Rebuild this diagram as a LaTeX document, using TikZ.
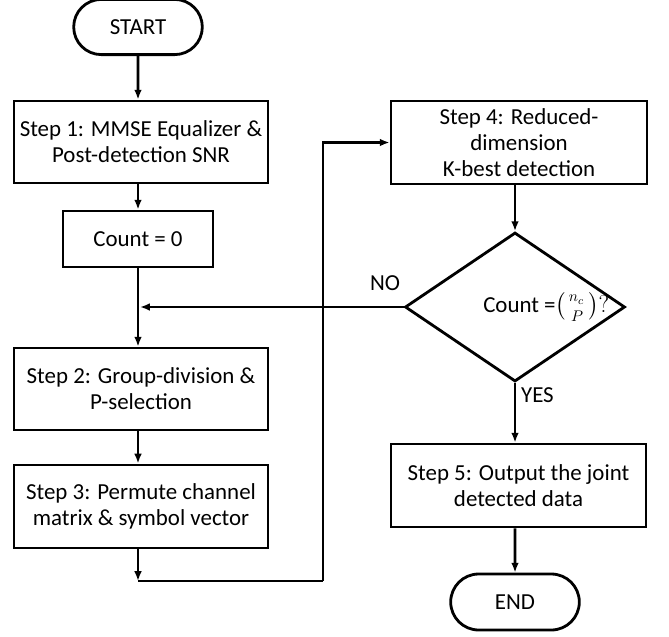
\documentclass[tikz,border=0pt]{standalone}
\usepackage{fontspec}
\setmainfont{Carlito}
\usepackage{amsmath,amssymb}
\usepackage{tikz}
\usetikzlibrary{arrows.meta, positioning, calc, shapes}
\tikzstyle{block} = [draw, line width=2pt, rectangle, align=center, minimum width=6.35cm, minimum height=2.05cm, font=\fontsize{16.3}{18.5}\selectfont]
\tikzstyle{term} = [draw, line width=2pt, rounded rectangle, minimum width=3.45cm, minimum height=1.38cm, font=\fontsize{16.3}{18.5}\selectfont]
\tikzstyle{arrow} = [line width=2pt, -{Latex[length=7pt, width=5.5pt]}]
\tikzstyle{line} = [line width=2pt]

\begin{document}
\begin{tikzpicture}

\useasboundingbox (0, 0) rectangle (16.725, -15.9);

% Left column
\node [term] (start) at (3.45, -0.675) {START};
\node [block] (step1) at (3.525, -3.55) {Step 1: MMSE Equalizer \&\\Post-detection SNR};
\node [block, minimum width=3.75cm, minimum height=1.4cm] (count) at (3.45, -5.975) {Count = 0};
\node [block] (step2) at (3.525, -9.725) {Step 2: Group-division \&\\P-selection};
\node [block, minimum height=2.075cm] (step3) at (3.525, -12.66) {Step 3: Permute channel\\matrix \& symbol vector};

% Right column
\node [block, minimum width=6.4cm, minimum height=2.075cm] (step4) at (12.975, -3.5625) {Step 4: Reduced-\\dimension\\K-best detection};
\node [draw, line width=2pt, diamond, inner sep=0pt, minimum width=5.5cm, minimum height=3.725cm] (check) at (12.875, -7.675) {};
\node [font=\fontsize{16.3}{18.5}\selectfont] (cond) at ($(check.center) + (0.78, 0)$) {Count =$\binom{\,n_c\;}{P}?$};
\node [block, minimum width=6.375cm, minimum height=2.075cm] (step5) at (12.9625, -12.1375) {Step 5: Output the joint\\detected data};
\node [term, minimum height=1.4cm] (end) at (12.875, -15.05) {END};

\coordinate (join) at (3.45, -7.675);
\coordinate (low) at (3.45, -14.525);
\coordinate (turn) at (8.075, -14.525);

% Connectors
\draw [arrow] (start) -- (start |- step1.north);
\draw [arrow] (step1.south -| start) -- (count);
\draw [arrow] (count) -- (count |- step2.north);
\draw [arrow] (step2.south -| count) -- (step3.north -| count);
\draw [arrow] (step3.south -| count) -- (low);
\draw [line] (low) -- (turn);
\draw [arrow] (turn) |- (step4.west);
\draw [arrow] (step4.south -| check) -- (check.north);
\draw [arrow] (check.west) -- node [above, pos=0.07, yshift=0.25cm, font=\fontsize{16.3}{18.5}\selectfont] (no) {NO} ($(join) + (0.05, 0)$);
\draw [arrow] (check.south) -- node [right, pos=0.2, font=\fontsize{16.3}{18.5}\selectfont] (yes) {YES} (step5.north -| check);
\draw [arrow] (step5.south -| end) -- (end);

\end{tikzpicture}
\end{document}
